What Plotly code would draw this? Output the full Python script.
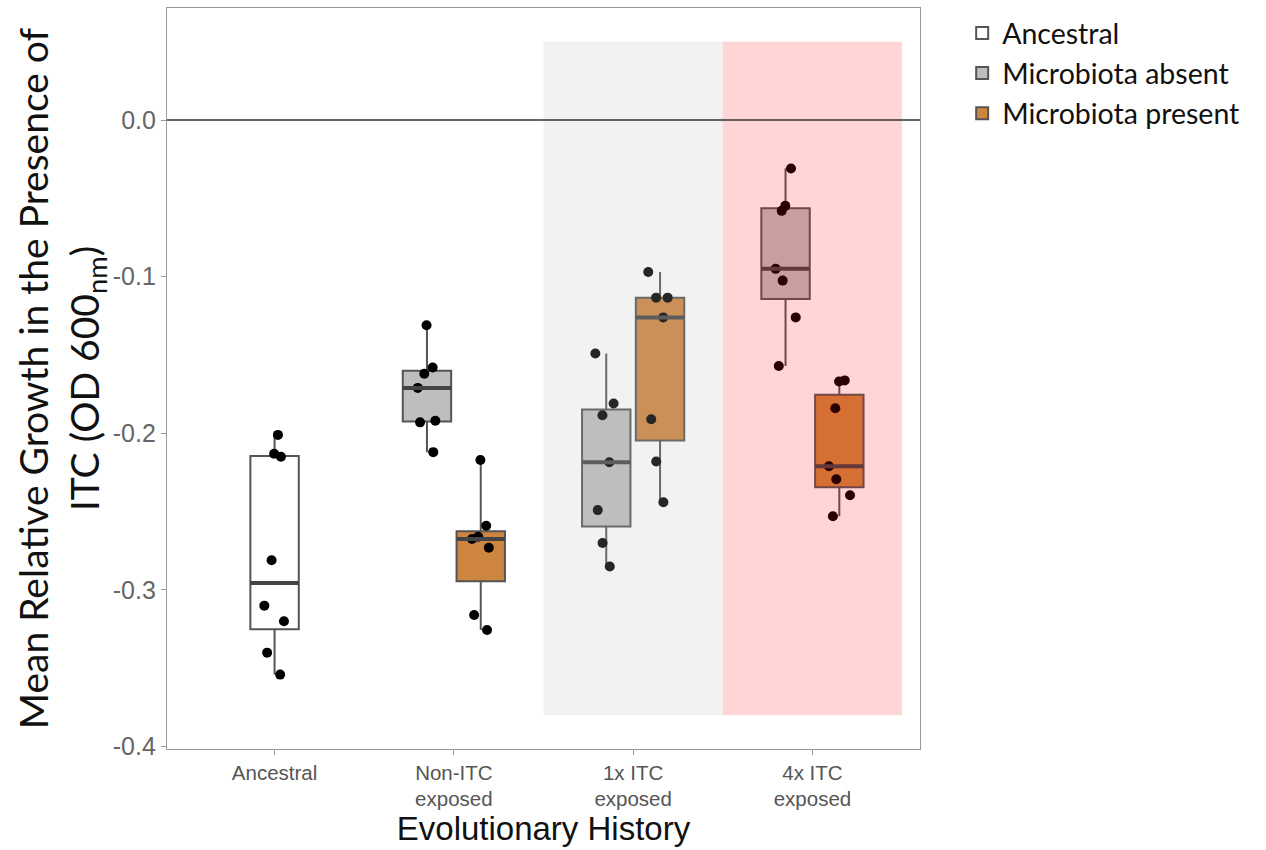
import numpy as np
import plotly.graph_objects as go

# Evolutionary-history groups shown on the x axis
categories = ["Ancestral", "Non-ITC<br>exposed", "1x ITC<br>exposed", "4x ITC<br>exposed"]

# Mean relative growth (OD 600nm) per replicate line
ancestral = [-0.201, -0.213, -0.215, -0.281, -0.310, -0.320, -0.340, -0.354]

absent_non_itc = [-0.131, -0.158, -0.162, -0.171, -0.192, -0.193, -0.212]
absent_1x_itc = [-0.149, -0.181, -0.1885, -0.2185, -0.249, -0.270, -0.285]
absent_4x_itc = [-0.031, -0.0548, -0.058, -0.095, -0.1025, -0.126, -0.157]

present_non_itc = [-0.217, -0.259, -0.266, -0.2675, -0.273, -0.316, -0.3255]
present_1x_itc = [-0.097, -0.1134, -0.1134, -0.126, -0.191, -0.218, -0.244]
present_4x_itc = [-0.1662, -0.1669, -0.184, -0.221, -0.2293, -0.2395, -0.2529]

y_tick_values = [0.0, -0.1, -0.2, -0.3, -0.4]
y_tick_labels = ["0.0", "-0.1", "-0.2", "-0.3", "-0.4"]

DODGE = 0.15
BOX_W = 0.27
LINE_COL = "#555555"


def box_stats(vals):
    """Hinges (type-7 quantiles) and Tukey whisker ends, as ggplot computes them."""
    v = np.asarray(vals, dtype=float)
    q1, med, q3 = np.percentile(v, [25, 50, 75])
    iqr = q3 - q1
    lo = v[v >= q1 - 1.5 * iqr].min()
    hi = v[v <= q3 + 1.5 * iqr].max()
    return q1, med, q3, lo, hi


def add_series(fig, name, groups, offset, fill):
    pos = [cat + offset for cat, _ in groups]
    stats = [box_stats(vals) for _, vals in groups]
    q1, med, q3, lo, hi = (list(s) for s in zip(*stats))

    # Boxes and whiskers
    fig.add_trace(go.Box(
        name=name, legendgroup=name,
        x=pos, q1=q1, median=med, q3=q3, lowerfence=lo, upperfence=hi,
        width=BOX_W, fillcolor=fill,
        line=dict(color=LINE_COL, width=2),
        whiskerwidth=0, boxpoints=False, hoverinfo="skip",
    ))

    # Heavier median bars
    mx, my = [], []
    for p, m in zip(pos, med):
        mx += [p - BOX_W / 2, p + BOX_W / 2, None]
        my += [m, m, None]
    fig.add_trace(go.Scatter(
        x=mx, y=my, mode="lines", line=dict(color="#444444", width=4),
        legendgroup=name, showlegend=False, hoverinfo="skip",
    ))

    # Jittered replicate points
    px, py = [], []
    for p, (_, vals) in zip(pos, groups):
        px += [p] * len(vals)
        py += list(vals)
    fig.add_trace(go.Box(
        x=px, y=py, width=BOX_W,
        fillcolor="rgba(0,0,0,0)", line=dict(color="rgba(0,0,0,0)", width=0),
        boxpoints="all", jitter=0.5, pointpos=0,
        marker=dict(color="black", size=10),
        legendgroup=name, showlegend=False, hoveron="points",
    ))


fig = go.Figure()
add_series(fig, "Ancestral", [(1, ancestral)], 0.0, "white")
add_series(fig, "Microbiota absent",
           [(2, absent_non_itc), (3, absent_1x_itc), (4, absent_4x_itc)], -DODGE, "#BEBEBE")
add_series(fig, "Microbiota present",
           [(2, present_non_itc), (3, present_1x_itc), (4, present_4x_itc)], DODGE, "#CD853F")

# Translucent bands marking the ITC-exposed histories, laid over the boxes
fig.add_shape(type="rect", xref="x", yref="y", x0=2.5, x1=3.5, y0=-0.38, y1=0.05,
              fillcolor="#BEBEBE", opacity=0.2, line=dict(width=0), layer="above")
fig.add_shape(type="rect", xref="x", yref="y", x0=3.5, x1=4.5, y0=-0.38, y1=0.05,
              fillcolor="red", opacity=0.165, line=dict(width=0), layer="above")

# Zero reference line
fig.add_shape(type="line", xref="paper", yref="y", x0=0, x1=1, y0=0, y1=0,
              line=dict(color="#333333", width=1.6), layer="above")

fig.update_layout(
    width=1266,
    height=850,
    margin=dict(l=167, r=346, t=8, b=101),
    paper_bgcolor="white",
    plot_bgcolor="white",
    showlegend=True,
    legend=dict(
        x=1.056, y=1.0, xanchor="left", yanchor="top",
        font=dict(family="Lato, Open Sans, sans-serif", size=28.5, color="#111111"),
        bgcolor="rgba(0,0,0,0)",
        tracegroupgap=0,
    ),
    xaxis=dict(
        range=[0.4, 4.6],
        tickvals=[1, 2, 3, 4],
        ticktext=categories,
        ticks="outside",
        ticklen=5,
        tickcolor="#999999",
        tickfont=dict(family="Liberation Sans, Arial, sans-serif", size=20.5, color="#555555"),
        showline=True,
        mirror=True,
        linecolor="#999999",
        linewidth=1.2,
        showgrid=False,
        zeroline=False,
        title=dict(
            text="Evolutionary History",
            font=dict(family="Liberation Sans, Arial, sans-serif", size=33, color="#111111"),
            standoff=0,
        ),
    ),
    yaxis=dict(
        range=[-0.4015, 0.0715],
        tickvals=y_tick_values,
        ticktext=y_tick_labels,
        ticks="outside",
        ticklen=5,
        tickcolor="#999999",
        tickfont=dict(family="Liberation Sans, Arial, sans-serif", size=25, color="#666666"),
        showline=True,
        mirror=True,
        linecolor="#999999",
        linewidth=1.2,
        showgrid=False,
        zeroline=False,
        title=dict(
            text="Mean Relative Growth in the Presence of<br>ITC (OD 600<sub>nm</sub>)",
            font=dict(family="Lato, Open Sans, sans-serif", size=39, color="#111111"),
            standoff=0,
        ),
    ),
)

fig.write_html("out.html")
